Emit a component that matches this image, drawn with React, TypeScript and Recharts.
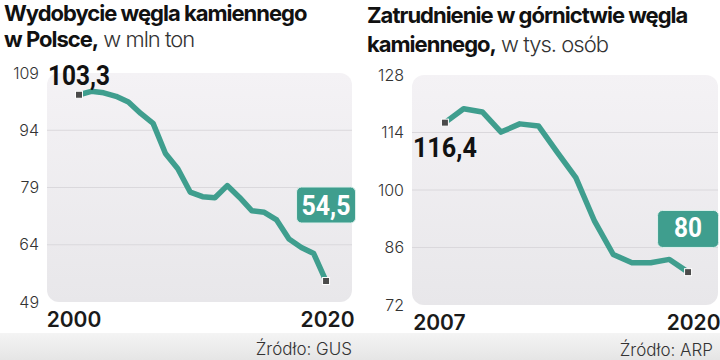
import React from "react"
import { LineChart, Line, XAxis, YAxis, ReferenceArea, ReferenceLine } from "recharts"

// wydobycie węgla kamiennego, mln ton (GUS)
const coalYears = [2000, 2001, 2002, 2003, 2004, 2005, 2006, 2007, 2008, 2009, 2010, 2011, 2012, 2013, 2014, 2015, 2016, 2017, 2018, 2019, 2020]
const coalOutput = [103.3, 104.2, 103.8, 102.9, 101.4, 98.4, 95.8, 87.9, 83.9, 77.8, 76.6, 76.3, 79.5, 76.4, 72.9, 72.5, 70.5, 65.5, 63.3, 61.7, 54.5]
const coalTicks = [49, 64, 79, 94, 109]

// zatrudnienie w górnictwie, tys. osób (ARP)
const jobYears = [2007, 2008, 2009, 2010, 2011, 2012, 2013, 2014, 2015, 2016, 2017, 2018, 2019, 2020]
const jobCount = [116.4, 119.8, 119.0, 114.1, 116.1, 115.6, 109.2, 103.0, 92.4, 84.3, 82.3, 82.3, 83.1, 80]
const jobTicks = [72, 86, 100, 114, 128]

const TEAL = "#3f9e8e"
const FONT = "Inter, 'Noto Sans', sans-serif"

const fmt = (v: number) => (Number.isInteger(v) ? String(v) : v.toFixed(1).replace(".", ","))

interface PanelProps {
  id: string
  years: number[]
  values: number[]
  ticks: number[]
  xDomain: [number, number]
  plotLeft: number
  margin: { top: number; right: number; left: number; bottom: number }
  axisHeight: number
  yearDx: [number, number]
  yearY: number
  first: { dy: number; w: number }
  last: { boxDy: number; w: number; h: number; textDy: number; textW: number }
}

function Panel(p: PanelProps) {
  const data = p.years.map((year, i) => ({ year, value: p.values[i] }))
  const n = data.length
  const yMin = p.ticks[0]
  const yMax = p.ticks[p.ticks.length - 1]

  const renderDot = (props: any) => {
    const { cx, cy, index } = props
    if (index !== 0 && index !== n - 1) return <g key={`d${index}`} />
    const v = data[index].value
    const marker = (
      <rect x={cx - 3.5} y={cy - 3.5} width={7} height={7} fill="#4b4b4b" stroke="#fff" strokeWidth={1} />
    )
    if (index === 0) {
      return (
        <g key={`d${index}`}>
          {marker}
          <text x={cx} y={cy + p.first.dy} textAnchor="middle" fontFamily="Roboto" fontWeight={700} fontSize={28}
            fill="#111" textLength={p.first.w} lengthAdjust="spacingAndGlyphs">
            {fmt(v)}
          </text>
        </g>
      )
    }
    return (
      <g key={`d${index}`}>
        {marker}
        <rect x={cx - p.last.w / 2} y={cy + p.last.boxDy} width={p.last.w} height={p.last.h} rx={5}
          fill={TEAL} stroke="#dff0ec" strokeWidth={1} />
        <text x={cx} y={cy + p.last.textDy} textAnchor="middle" fontFamily="Roboto" fontWeight={700} fontSize={28}
          fill="#fff" textLength={p.last.textW} lengthAdjust="spacingAndGlyphs">
          {fmt(v)}
        </text>
      </g>
    )
  }

  const renderYear = (props: any) => {
    const { x, payload, index } = props
    return (
      <text x={x + p.yearDx[index]} y={p.yearY} textAnchor="middle" fontFamily={FONT} fontWeight={600}
        fontSize={21} fill="#1a1a1a">
        {payload.value}
      </text>
    )
  }

  return (
    <LineChart width={360} height={360} data={data} margin={p.margin}>
      <defs>
        <linearGradient id={`bg-${p.id}`} x1="0" y1="0" x2="0" y2="1">
          <stop offset="0%" stopColor="#f4f2f5" />
          <stop offset="100%" stopColor="#e8e7ea" />
        </linearGradient>
      </defs>
      <XAxis type="number" dataKey="year" domain={p.xDomain} ticks={[p.years[0], p.years[n - 1]]}
        axisLine={false} tickLine={false} height={p.axisHeight} tick={renderYear} interval={0} />
      <YAxis type="number" domain={[yMin, yMax]} ticks={p.ticks} axisLine={false} tickLine={false}
        tickSize={0} tickMargin={8} width={p.plotLeft} interval={0}
        tick={{ fontSize: 16, fill: "#333", fontFamily: FONT, fontWeight: 300 }} />
      <ReferenceArea x1={p.xDomain[0]} x2={p.xDomain[1]} y1={yMin} y2={yMax}
        shape={(s: any) => (
          <rect x={s.x} y={s.y} width={s.width} height={s.height} rx={12} fill={`url(#bg-${p.id})`} />
        )} />
      {p.ticks.slice(1, -1).map((t) => (
        <ReferenceLine key={t} y={t} stroke="#dad8dc" strokeWidth={1} />
      ))}
      <Line type="linear" dataKey="value" stroke={TEAL} strokeWidth={5.5} strokeLinejoin="round"
        dot={renderDot} activeDot={false} isAnimationActive={false} />
    </LineChart>
  )
}

const titleStyle: React.CSSProperties = {
  position: "absolute",
  fontFamily: FONT,
  fontSize: 22,
  color: "#111",
  letterSpacing: -1,
  whiteSpace: "nowrap",
}

const sourceStyle: React.CSSProperties = {
  position: "absolute",
  fontFamily: FONT,
  fontSize: 17,
  fontWeight: 300,
  color: "#333",
  lineHeight: "20px",
  textAlign: "right",
}

export default function App() {
  return (
    <div style={{ position: "absolute", left: 0, top: 0, width: 720, height: 360, background: "#fff", overflow: "hidden" }}>
      <div style={{ position: "absolute", left: 0, top: 333, width: 720, height: 27, background: "linear-gradient(#f4f4f4, #e5e5e5)" }} />
      <div style={{ position: "absolute", left: 0, top: 0 }}>
        <Panel id="coal" years={coalYears} values={coalOutput} ticks={coalTicks} xDomain={[1997.41, 2022.1]}
          plotLeft={47} margin={{ top: 73, right: 8, left: 0, bottom: 0 }} axisHeight={58}
          yearDx={[-5, 1.5]} yearY={327}
          first={{ dy: -10, w: 62 }} last={{ boxDy: -94, w: 59, h: 36, textDy: -66, textW: 49 }} />
      </div>
      <div style={{ position: "absolute", left: 360, top: 0 }}>
        <Panel id="jobs" years={jobYears} values={jobCount} ticks={jobTicks} xDomain={[2005.24, 2021.6]}
          plotLeft={52} margin={{ top: 75, right: 2, left: 0, bottom: 0 }} axisHeight={55}
          yearDx={[-5.5, 5.5]} yearY={330}
          first={{ dy: 34, w: 64 }} last={{ boxDy: -61.7, w: 61, h: 37, textDy: -34.7, textW: 28 }} />
      </div>
      <div style={{ ...titleStyle, left: 4, top: 0, lineHeight: "26px" }}>
        <b>Wydobycie węgla kamiennego</b>
        <br />
        <b>w Polsce,</b> <span style={{ fontWeight: 300, color: "#333" }}>w mln ton</span>
      </div>
      <div style={{ ...titleStyle, left: 367, top: 1, lineHeight: "29px" }}>
        <b>Zatrudnienie w górnictwie węgla</b>
        <br />
        <b>kamiennego,</b> <span style={{ fontWeight: 300, color: "#333" }}>w tys. osób</span>
      </div>
      <div style={{ ...sourceStyle, right: 720 - 352, top: 339 }}>Źródło: GUS</div>
      <div style={{ ...sourceStyle, right: 720 - 713, top: 340 }}>Źródło: ARP</div>
    </div>
  )
}
